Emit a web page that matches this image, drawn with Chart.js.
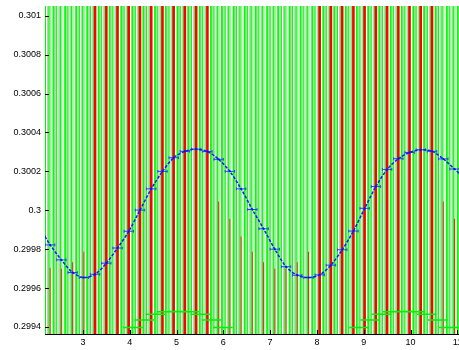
<!DOCTYPE html>
<html><head><meta charset="utf-8">
<script src="https://cdn.jsdelivr.net/npm/chart.js@4.4.0/dist/chart.umd.min.js"></script>
<style>html,body{margin:0;padding:0;overflow:hidden;background:#fff}</style>
</head><body>
<canvas id="c" width="467" height="350"></canvas>
<script>
// ---- tick labels ----
const xTicks = [3,4,5,6,7,8,9,10,11];
const yTicks = [0.2994,0.2996,0.2998,0.3,0.3002,0.3004,0.3006,0.3008,0.301];
const yTickLabels = ['0.2994','0.2996','0.2998','0.3','0.3002','0.3004','0.3006','0.3008','0.301'];

// ---- blue series (curve + horizontal error bars) ----
const blueX = [2.19,2.30,2.54,2.78,3.02,3.26,3.50,3.74,3.98,4.22,4.46,4.70,4.94,5.18,5.42,5.66,5.90,6.14,6.38,6.62,6.86,7.10,7.34,7.58,7.82,8.06,8.30,8.54,8.78,9.02,9.26,9.50,9.74,9.98,10.22,10.46,10.70,10.94,11.10];
const blueY = [0.299865,0.299822,0.299745,0.299680,0.299654,0.299671,0.299728,0.299806,0.299892,0.300001,0.300110,0.300200,0.300270,0.300303,0.300314,0.300302,0.300262,0.300200,0.300110,0.300004,0.299905,0.299800,0.299710,0.299666,0.299654,0.299668,0.299718,0.299797,0.299893,0.300010,0.300122,0.300210,0.300265,0.300297,0.300311,0.300303,0.300264,0.300212,0.300175];

// ---- green series near bottom (horizontal error bars) ----
const greenX = [4.07,4.31,4.55,4.79,5.03,5.27,5.51,5.75,5.99,8.90,9.14,9.38,9.62,9.86,10.10,10.34,10.58,10.82];
const greenY = [0.299398,0.299436,0.299465,0.299479,0.299480,0.299479,0.299465,0.299436,0.299398,0.299398,0.299436,0.299465,0.299479,0.299480,0.299479,0.299465,0.299436,0.299398];

// ---- red vertical bars ----
const redFullX = [3.26,3.50,3.74,3.98,4.22,4.46,4.70,4.94,5.18,5.42,5.66,8.06,8.30,8.54,8.78,9.02,9.26,9.50,9.74,9.98,10.22,10.46];
const redPartX = [2.30,2.54,2.78,3.02,5.90,6.14,6.38,6.62,6.86,7.10,7.34,7.58,7.82,10.70,10.94];
const redPartTop = [0.299704,0.299700,0.299733,0.299787,0.300045,0.299956,0.299865,0.299787,0.299733,0.299700,0.299700,0.299733,0.299787,0.300045,0.299956];

// ---- green vertical bars (full height) ----
const greenWideX = [2.135,2.37,2.62,2.855,3.09,3.335,3.57,3.82,4.055,4.29,4.54,4.77,5.02,5.25,5.495,5.735,5.97,6.22,6.455,6.69,6.935,7.17,7.415,7.65,7.9,8.135,8.37,8.615,8.85,9.095,9.33,9.575,9.81,10.06,10.29,10.535,10.775,11.01,11.25];
const greenThinX = [2.20,2.275,2.44,2.52,2.68,2.755,2.925,2.995,3.16,3.235,3.40,3.475,3.64,3.715,3.88,3.955,4.12,4.195,4.36,4.435,4.60,4.675,4.84,4.915,5.08,5.155,5.32,5.395,5.56,5.635,5.80,5.875,6.04,6.115,6.28,6.355,6.52,6.595,6.76,6.835,7.00,7.075,7.24,7.315,7.48,7.555,7.72,7.795,7.96,8.035,8.20,8.275,8.44,8.515,8.68,8.755,8.92,8.995,9.16,9.235,9.40,9.475,9.64,9.715,9.88,9.955,10.12,10.195,10.36,10.435,10.60,10.675,10.84,10.915,11.08,11.155];
const whiteX = [2.105,2.23,2.345,2.47,2.585,2.71,2.825,2.95,3.065,3.19,3.305,3.43,3.545,3.67,3.785,3.91,4.025,4.15,4.265,4.39,4.505,4.63,4.745,4.87,4.985,5.11,5.225,5.35,5.465,5.59,5.705,5.83,5.945,6.07,6.185,6.31,6.425,6.55,6.665,6.79,6.905,7.03,7.145,7.27,7.385,7.51,7.625,7.75,7.865,7.99,8.105,8.23,8.345,8.47,8.585,8.71,8.825,8.95,9.065,9.19,9.305,9.43,9.545,9.67,9.785,9.91,10.025,10.15,10.265,10.39,10.505,10.63,10.745,10.87,10.985,11.11];
const grayX = [2.165,2.25,2.405,2.49,2.645,2.73,2.885,2.97,3.125,3.21,3.365,3.45,3.605,3.69,3.845,3.93,4.085,4.17,4.325,4.41,4.565,4.65,4.805,4.89,5.045,5.13,5.285,5.37,5.525,5.61,5.765,5.85,6.005,6.09,6.245,6.33,6.485,6.57,6.725,6.81,6.965,7.05,7.205,7.29,7.445,7.53,7.685,7.77,7.925,8.01,8.165,8.25,8.405,8.49,8.645,8.73,8.885,8.97,9.125,9.21,9.365,9.45,9.605,9.69,9.845,9.93,10.085,10.17,10.325,10.41,10.565,10.65,10.805,10.89,11.045,11.13];

const X_MIN = 2.19, X_MAX = 11.207, Y_MIN = 0.299364, Y_MAX = 0.30105;
const LO = 0.2990, HI = 0.3015;

function vlines(xs, lo, hi){
  const d = [];
  xs.forEach((x,i)=>{
    d.push({x:x, y: Array.isArray(lo)?lo[i]:lo});
    d.push({x:x, y: Array.isArray(hi)?hi[i]:hi});
    d.push({x:x, y:null});
  });
  return d;
}
function hbars(xs, ys, hw, cap){
  const d = [];
  xs.forEach((x,i)=>{
    const y = ys[i];
    d.push({x:x-hw,y:y},{x:x+hw,y:y},{x:x,y:null});
    if (cap){
      d.push({x:x-hw,y:y-cap},{x:x-hw,y:y+cap},{x:x,y:null});
      d.push({x:x+hw,y:y-cap},{x:x+hw,y:y+cap},{x:x,y:null});
    }
  });
  return d;
}
function lineDs(data, color, width, order, extra){
  return Object.assign({data:data, borderColor:color, borderWidth:width, pointRadius:0, fill:false, spanGaps:false, tension:0, order:order}, extra||{});
}

const bgPlugin = {
  id:'bg',
  beforeDraw(chart){
    const a = chart.chartArea, ctx = chart.ctx;
    ctx.save(); ctx.fillStyle = '#ffffff'; ctx.fillRect(0,0,chart.width,chart.height);
    ctx.fillStyle = '#94fa94'; ctx.fillRect(a.left, a.top, a.right-a.left, a.bottom-a.top); ctx.restore();
  }
};
const tickPlugin = {
  id:'inticks',
  afterDatasetsDraw(chart){
    const {ctx, chartArea:a, scales:{x, y}} = chart;
    ctx.save(); ctx.strokeStyle = '#000'; ctx.lineWidth = 1; ctx.beginPath();
    xTicks.forEach(v=>{ const p = Math.round(x.getPixelForValue(v))+0.5; ctx.moveTo(p, a.bottom); ctx.lineTo(p, a.bottom-4); });
    yTicks.forEach(v=>{ const p = Math.round(y.getPixelForValue(v))+0.5; ctx.moveTo(a.left, p); ctx.lineTo(a.left+4, p); });
    ctx.stroke(); ctx.restore();
  }
};

const blueBarX = blueX.slice(1,-1), blueBarY = blueY.slice(1,-1);

new Chart(document.getElementById('c'), {
  type:'line',
  data:{datasets:[
    lineDs(blueX.map((x,i)=>({x:x,y:blueY[i]})), '#0a1eff', 1.5, 0, {pointRadius:1, pointBackgroundColor:'#0010ff', pointBorderWidth:0, tension:0.3, borderDash:[3,1.5]}),
    lineDs(hbars(blueBarX, blueBarY, 0.1, 0.000007), '#2845e8', 1, 1),
    lineDs(hbars(greenX, greenY, 0.21, 0), '#00f000', 1.5, 2),
    lineDs(vlines(redPartX, LO, redPartTop), '#f0281e', 1, 3),
    lineDs(vlines(redFullX, LO, HI), '#ff0000', 2.5, 4),
    lineDs(vlines(greenWideX, LO, HI), '#00ff00', 1.7, 5),
    lineDs(vlines(greenThinX, LO, HI), '#00ff00', 1, 6),
    lineDs(vlines(grayX, LO, HI), '#bdcebd', 1.6, 7),
    lineDs(vlines(whiteX, LO, HI), '#ffffff', 1.8, 8)
  ]},
  options:{
    responsive:false, animation:false, devicePixelRatio:1,
    layout:{autoPadding:false, padding:{top:6,left:0,right:0,bottom:0}},
    plugins:{legend:{display:false}, tooltip:{enabled:false}},
    scales:{
      x:{type:'linear', min:X_MIN, max:X_MAX,
        grid:{drawOnChartArea:false, drawTicks:false},
        border:{display:true, color:'#000', width:1},
        ticks:{font:{family:'Liberation Sans, Arial, sans-serif', size:9}, color:'#000', padding:3, maxRotation:0, autoSkip:false,
          callback:(v)=>String(v)},
        afterBuildTicks:(s)=>{ s.ticks = xTicks.map(v=>({value:v})); },
        afterFit:(s)=>{ s.height = 16; s.paddingLeft = 0; s.paddingRight = 0; s.paddingTop = 0; s.paddingBottom = 0; }
      },
      y:{type:'linear', min:Y_MIN, max:Y_MAX,
        grid:{drawOnChartArea:false, drawTicks:false},
        border:{display:true, color:'#000', width:1},
        ticks:{font:{family:'Liberation Sans, Arial, sans-serif', size:9}, color:'#000', padding:4,
          callback:(v,i)=>yTickLabels[i]},
        afterBuildTicks:(s)=>{ s.ticks = yTicks.map(v=>({value:v})); },
        afterFit:(s)=>{ s.width = 45; s.paddingLeft = 0; s.paddingRight = 0; s.paddingTop = 0; s.paddingBottom = 0; }
      }
    }
  },
  plugins:[bgPlugin, tickPlugin]
});
</script>
</body></html>
